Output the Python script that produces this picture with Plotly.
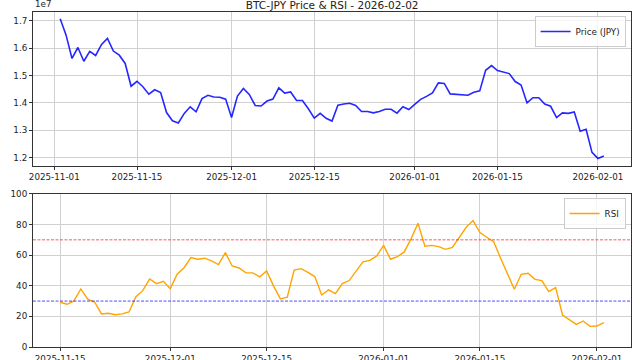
import pandas as pd
import plotly.graph_objects as go

title_text = "BTC-JPY Price & RSI - 2026-02-02"
price_start = "2025-11-02"
rsi_start = "2025-11-15"

# BTC-JPY daily close (JPY)
price_jpy = [
    17070000, 16470000, 15620000, 16020000, 15520000, 15880000, 15730000, 16130000, 16350000, 15890000,
    15740000, 15440000, 14610000, 14790000, 14590000, 14320000, 14480000, 14380000, 13650000, 13350000,
    13270000, 13620000, 13860000, 13680000, 14160000, 14280000, 14220000, 14210000, 14140000, 13470000,
    14250000, 14530000, 14310000, 13910000, 13890000, 14070000, 14140000, 14550000, 14360000, 14400000,
    14090000, 14090000, 13790000, 13450000, 13620000, 13440000, 13340000, 13920000, 13960000, 13990000,
    13910000, 13690000, 13690000, 13640000, 13690000, 13770000, 13770000, 13630000, 13860000, 13760000,
    13950000, 14130000, 14240000, 14370000, 14730000, 14710000, 14330000, 14310000, 14310000, 14280000,
    14390000, 14440000, 15190000, 15360000, 15180000, 15130000, 15070000, 14780000, 14650000, 14000000,
    14190000, 14190000, 13960000, 13880000, 13470000, 13640000, 13620000, 13670000, 12970000, 13040000,
    12200000, 11980000, 12070000,
]

# 14-day RSI
rsi_values = [
    29.2, 27.9, 30.1, 37.9, 31.2, 29.4, 21.6, 22.0, 21.1, 21.6,
    22.9, 32.9, 36.8, 44.4, 41.4, 42.9, 38.1, 47.5, 51.8, 58.4,
    57.3, 58.0, 56.2, 53.8, 61.6, 52.9, 51.6, 48.4, 48.4, 45.8,
    49.7, 39.9, 31.4, 32.5, 50.3, 51.2, 48.8, 46.0, 34.0, 37.3,
    34.9, 41.4, 43.4, 49.9, 55.6, 56.6, 59.5, 66.4, 57.3, 59.0,
    62.1, 70.8, 80.8, 65.8, 66.4, 65.6, 63.8, 65.1, 72.1, 78.2,
    82.6, 74.7, 71.7, 68.8, 58.0, 48.2, 37.7, 47.5, 48.2, 44.2,
    43.4, 36.2, 38.8, 20.9, 17.6, 14.8, 17.0, 13.5, 13.7, 15.9,
]

rsi_overbought = 70
rsi_oversold = 30

tick_dates = ["2025-11-01", "2025-11-15", "2025-12-01", "2025-12-15",
              "2026-01-01", "2026-01-15", "2026-02-01"]
price_ticks = [1.2, 1.3, 1.4, 1.5, 1.6, 1.7]
rsi_ticks = [0, 20, 40, 60, 80, 100]

price_dates = pd.date_range(price_start, periods=len(price_jpy), freq="D")
rsi_dates = pd.date_range(rsi_start, periods=len(rsi_values), freq="D")
price_scaled = [p / 1e7 for p in price_jpy]

FONT = "DejaVu Sans"
GRID = "#d0d0d0"
SPINE = "#333333"

fig = go.Figure()
fig.add_trace(go.Scatter(
    x=price_dates, y=price_scaled, mode="lines", name="Price (JPY)",
    line=dict(color="rgba(0,0,255,0.85)", width=1.6),
    xaxis="x", yaxis="y", legend="legend",
))
fig.add_trace(go.Scatter(
    x=rsi_dates, y=rsi_values, mode="lines", name="RSI",
    line=dict(color="orange", width=1.4),
    xaxis="x2", yaxis="y2", legend="legend2",
))

for lvl, col in [(rsi_overbought, "rgba(255,0,0,0.65)"), (rsi_oversold, "rgba(0,0,255,0.7)")]:
    fig.add_shape(type="line", xref="x2 domain", yref="y2", x0=0, x1=1, y0=lvl, y1=lvl,
                  line=dict(color=col, width=1, dash="3px,1.5px"), layer="above")

axis_common = dict(
    showgrid=True, gridcolor=GRID, gridwidth=1,
    showline=True, linecolor=SPINE, linewidth=1, mirror=True,
    ticks="outside", ticklen=3, tickcolor=SPINE, tickwidth=1,
    tickfont=dict(family=FONT, size=8.75, color="#222222"),
    zeroline=False, automargin=False,
)

fig.update_layout(
    width=640, height=360,
    template="none",
    paper_bgcolor="white", plot_bgcolor="white",
    margin=dict(l=33, r=9, t=12, b=13),
    showlegend=True,
    title=dict(text=title_text, x=0.519, xanchor="center", y=0.975, yanchor="bottom",
               yref="container", font=dict(family=FONT, size=10.5, color="#222222")),
    xaxis=dict(domain=[0, 1], anchor="y",
               range=["2025-10-28 09:36", "2026-02-06 14:24"],
               tickvals=tick_dates, tickformat="%Y-%m-%d", **axis_common),
    yaxis=dict(domain=[0.541, 1], anchor="x",
               range=[1.1713, 1.7313], tickvals=price_ticks,
               ticktext=[f"{v:.1f}" for v in price_ticks], **axis_common),
    xaxis2=dict(domain=[0, 1], anchor="y2",
                range=["2025-11-11 01:12", "2026-02-05 22:48"],
                tickvals=tick_dates, tickformat="%Y-%m-%d", **axis_common),
    yaxis2=dict(domain=[0, 0.457], anchor="x2", range=[0, 100],
                tickvals=rsi_ticks, **axis_common),
    legend=dict(x=0.991, y=0.988, xanchor="right", yanchor="top",
                bgcolor="rgba(255,255,255,0.8)", bordercolor="#cccccc", borderwidth=1,
                font=dict(family=FONT, size=8.75, color="#222222"),
                itemwidth=30, tracegroupgap=0),
    legend2=dict(x=0.991, y=0.445, xanchor="right", yanchor="top",
                 bgcolor="rgba(255,255,255,0.8)", bordercolor="#cccccc", borderwidth=1,
                 font=dict(family=FONT, size=8.75, color="#222222"),
                 itemwidth=30, tracegroupgap=0),
    annotations=[dict(text="1e7", xref="paper", yref="paper", x=0, y=1.0,
                      xanchor="left", yanchor="bottom", showarrow=False, yshift=1,
                      font=dict(family=FONT, size=8.75, color="#222222"))],
)

fig.write_html("out.html")
